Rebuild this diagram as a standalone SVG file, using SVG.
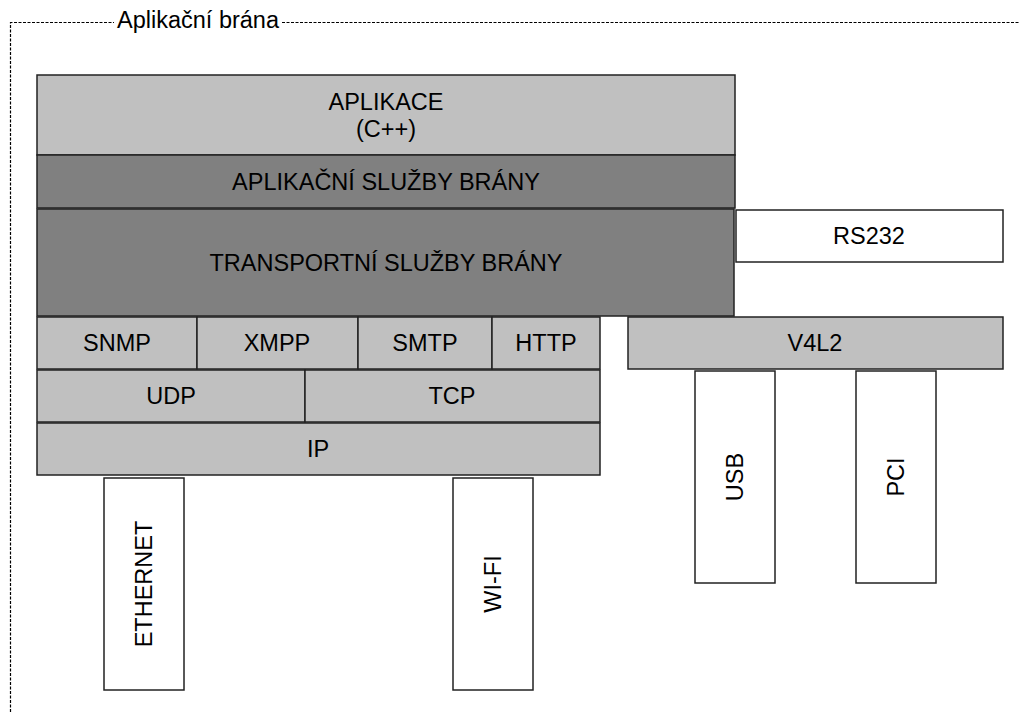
<svg xmlns="http://www.w3.org/2000/svg" width="1020" height="712" viewBox="0 0 1020 712">
<style>
.box{stroke:#222;stroke-width:1.5}
.l{fill:#c0c0c0}
.d{fill:#808080}
.w{fill:#fff}
text{font-family:"Liberation Sans",Arial,sans-serif;font-size:23.5px;fill:#000;text-anchor:middle;dominant-baseline:central}
.frame{fill:none;stroke:#000;stroke-width:1.2;stroke-dasharray:3,1.5}
</style>
<rect width="1020" height="712" fill="#fff"/>
<g id="frame">
<path class="frame" d="M10.5,712 V22.5 H114 M282,22.5 H1020"/>
<text x="198" y="20" style="font-size:23.5px">Aplikační brána</text>
</g>
<g id="aplikace"><rect class="box l" x="37" y="75" width="698" height="80"/><text x="386" y="102">APLIKACE</text><text x="386" y="129">(C++)</text></g>
<g id="sluzby"><rect class="box d" x="37" y="155" width="698" height="53"/><text x="386" y="182">APLIKAČNÍ SLUŽBY BRÁNY</text></g>
<g id="transport"><rect class="box d" x="37" y="209" width="697" height="107"/><text x="386" y="263">TRANSPORTNÍ SLUŽBY BRÁNY</text></g>
<g id="rs232"><rect class="box w" x="736" y="210" width="267" height="52"/><text x="869" y="236">RS232</text></g>
<g id="snmp"><rect class="box l" x="37" y="317" width="160" height="52"/><text x="117" y="343">SNMP</text></g>
<g id="xmpp"><rect class="box l" x="197" y="317" width="161" height="52"/><text x="277" y="343">XMPP</text></g>
<g id="smtp"><rect class="box l" x="358" y="317" width="134" height="52"/><text x="425" y="343">SMTP</text></g>
<g id="http"><rect class="box l" x="492" y="317" width="108" height="52"/><text x="546" y="343">HTTP</text></g>
<g id="udp"><rect class="box l" x="37" y="370" width="268" height="52"/><text x="171" y="396">UDP</text></g>
<g id="tcp"><rect class="box l" x="305" y="370" width="295" height="52"/><text x="452" y="396">TCP</text></g>
<g id="ip"><rect class="box l" x="37" y="423" width="563" height="52"/><text x="318" y="449">IP</text></g>
<g id="v4l2"><rect class="box l" x="628" y="317" width="375" height="52"/><text x="815" y="343">V4L2</text></g>
<g id="ethernet"><rect class="box w" x="104" y="478" width="80" height="212"/><text transform="translate(144,584) rotate(-90)">ETHERNET</text></g>
<g id="wifi"><rect class="box w" x="453" y="478" width="80" height="212"/><text transform="translate(493,584) rotate(-90)">WI-FI</text></g>
<g id="usb"><rect class="box w" x="695" y="371" width="80" height="212"/><text transform="translate(735,477) rotate(-90)">USB</text></g>
<g id="pci"><rect class="box w" x="856" y="371" width="80" height="212"/><text transform="translate(896,477) rotate(-90)">PCI</text></g>
<g id="connectors"></g>
</svg>
